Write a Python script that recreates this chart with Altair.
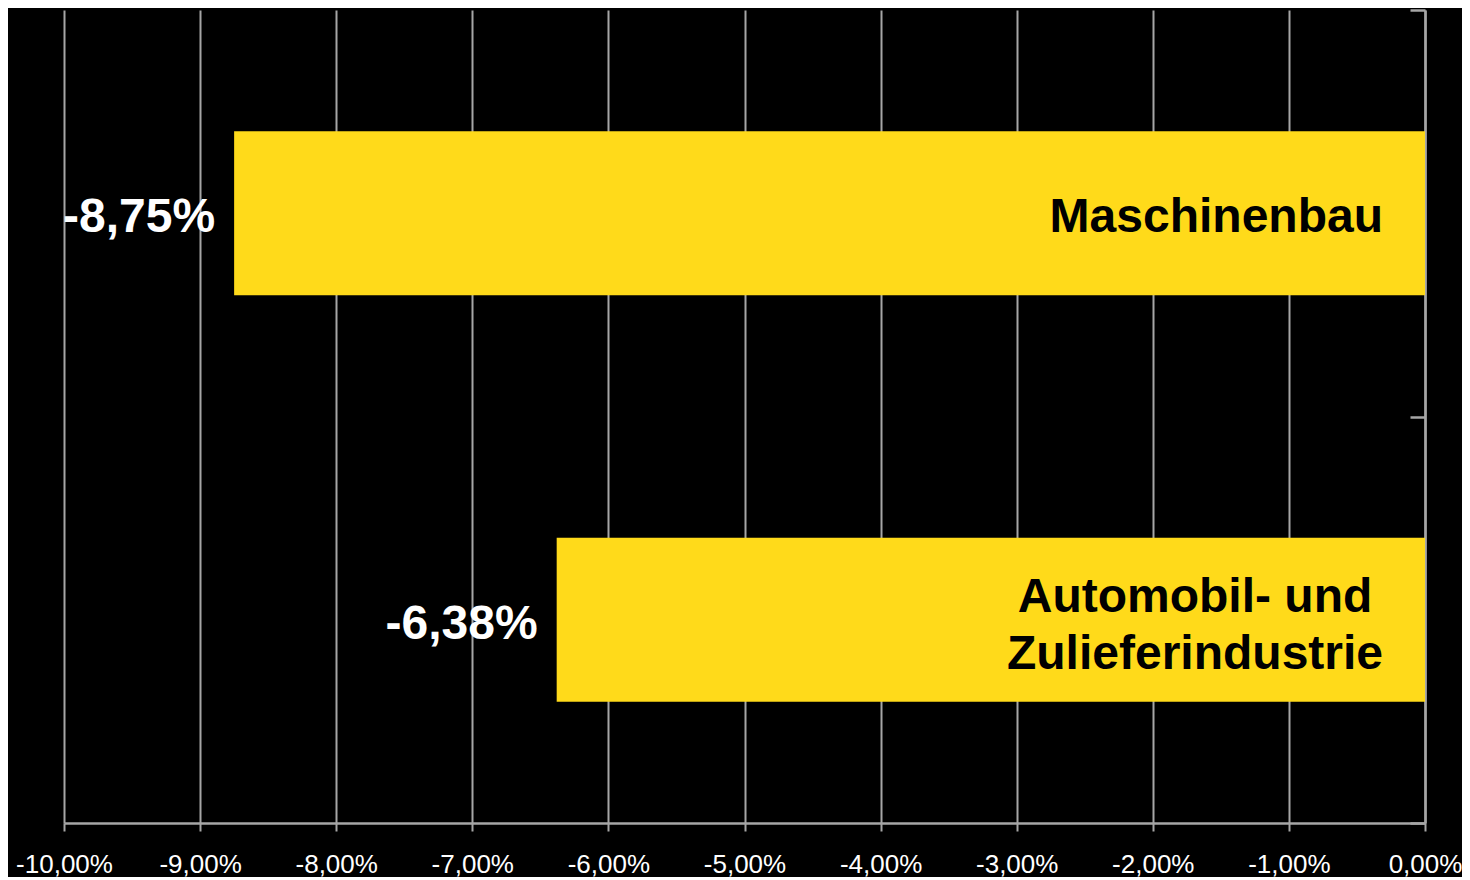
import altair as alt
import pandas as pd

# ---- data ----
categories = ["Maschinenbau", "Automobil- und\nZulieferindustrie"]
values = [-8.75, -6.38]
value_labels = ["-8,75%", "-6,38%"]
tick_values = [-10, -9, -8, -7, -6, -5, -4, -3, -2, -1, 0]
tick_labels = ["-10,00%", "-9,00%", "-8,00%", "-7,00%", "-6,00%", "-5,00%",
               "-4,00%", "-3,00%", "-2,00%", "-1,00%", "0,00%"]

df = pd.DataFrame({"category": categories, "value": values, "label": value_labels})

label_expr = " : ".join(f"datum.value == {v} ? '{l}'" for v, l in zip(tick_values, tick_labels)) + " : ''"

YELLOW = "#FFDA1A"
GRAY = "#A6A6A6"
FONT = "Liberation Sans"
W, H = 1361, 813

x_enc = alt.X(
    "value:Q",
    scale=alt.Scale(domain=[-10, 0], nice=False, zero=True),
    axis=alt.Axis(
        values=tick_values, labelExpr=label_expr, title=None,
        grid=True, gridColor=GRAY, gridWidth=2,
        domainColor=GRAY, domainWidth=2.5, tickColor=GRAY, tickWidth=2, tickSize=8,
        labelColor="white", labelFont=FONT, labelFontSize=26, labelPadding=20,
        labelAlign="center", labelFlush=False,
    ),
)
y_enc = alt.Y(
    "category:N", sort=categories,
    scale=alt.Scale(paddingInner=0, paddingOuter=0),
    axis=alt.Axis(
        orient="left", offset=-W, labels=False, title=None, grid=False,
        domainColor=GRAY, domainWidth=2.5, tickColor=GRAY, tickWidth=2.5,
        tickSize=15, tickBand="extent",
    ),
)

base = alt.Chart(df)

bars = base.mark_bar(color=YELLOW, size=164).encode(x=x_enc, y=y_enc)

vlabels = base.mark_text(
    align="right", baseline="middle", dx=-19, dy=5, font=FONT,
    fontSize=48, fontWeight="bold", color="white",
).encode(x="value:Q", y=alt.Y("category:N", sort=categories), text="label:N")

cat1 = base.transform_filter(alt.datum.category == categories[0]).mark_text(
    align="right", baseline="middle", dx=-42, dy=5, font=FONT,
    fontSize=48, fontWeight="bold", color="black",
).encode(x=alt.datum(0), y=alt.Y("category:N", sort=categories), text="category:N")

cat2 = base.transform_filter(alt.datum.category == categories[1]).mark_text(
    align="center", baseline="middle", dx=-230, dy=-22, font=FONT,
    fontSize=48, fontWeight="bold", color="black", lineBreak="\n", lineHeight=57,
).encode(x=alt.datum(0), y=alt.Y("category:N", sort=categories), text="category:N")

chart = (
    alt.layer(bars, vlabels, cat1, cat2)
    .properties(
        width=W, height=H, background="black",
        autosize=alt.AutoSizeParams(type="none"),
        padding={"left": 56, "top": 2, "right": 37, "bottom": 54},
    )
    .configure_view(stroke=None)
)

chart.save("out.html", embed_options={"renderer": "svg", "actions": False})
